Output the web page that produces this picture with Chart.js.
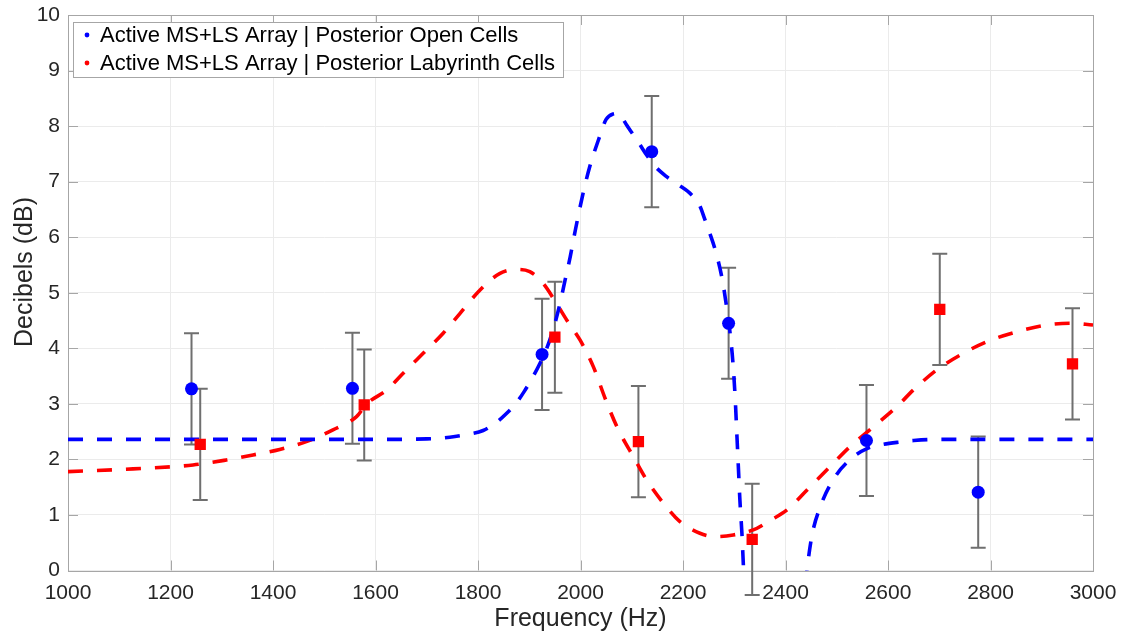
<!DOCTYPE html>
<html>
<head>
<meta charset="utf-8">
<title>Active MS+LS Array</title>
<script src="https://cdn.jsdelivr.net/npm/chart.js@4/dist/chart.umd.min.js"></script>
<style>
  html, body { margin: 0; padding: 0; background: #fff; }
  #wrap { width: 1122px; height: 635px; position: relative; }
</style>
</head>
<body>
<div id="wrap"><canvas id="dbChart"></canvas></div>
<script>
// measured points (mean +/- error) for the two cell types
const openLabel = 'Active MS+LS Array | Posterior Open Cells';
const openHz = [1241, 1555, 1925, 2139, 2289, 2558, 2776];
const openDb = [3.27, 3.28, 3.89, 7.54, 4.45, 2.34, 1.41];
const openErr = [1, 1, 1, 1, 1, 1, 1];

const labyLabel = 'Active MS+LS Array | Posterior Labyrinth Cells';
const labyHz = [1258, 1578, 1950, 2113, 2335, 2701, 2960];
const labyDb = [2.27, 2.98, 4.20, 2.32, 0.56, 4.70, 3.72];
const labyErr = [1, 1, 1, 1, 1, 1, 1];

// fitted curves
const openFitHz = [1000, 1200, 1400, 1600, 1700, 1745, 1780, 1810, 1835, 1856, 1875, 1890, 1905, 1921, 1935, 1948,
  1960, 1970, 1980, 1990, 2005, 2018, 2035, 2050, 2064, 2074, 2082, 2090, 2101, 2115, 2129, 2145, 2168, 2190, 2217,
  2232, 2243, 2252, 2262, 2276, 2285, 2293, 2298, 2302, 2305, 2308, 2311, 2315, 2318, 2322, 2335, 2380, 2425, 2436,
  2442, 2451, 2468, 2497, 2533, 2560, 2585, 2620, 2650, 2695, 2800, 3000];
const openFitDb = [2.36, 2.36, 2.36, 2.36, 2.37, 2.40, 2.45, 2.52, 2.66, 2.83, 3.02, 3.22, 3.45, 3.73, 4.02, 4.38,
  4.81, 5.23, 5.65, 6.13, 6.79, 7.27, 7.75, 8.12, 8.22, 8.23, 8.14, 8.02, 7.87, 7.68, 7.48, 7.28, 7.09, 6.95, 6.76,
  6.58, 6.31, 6.08, 5.80, 5.27, 4.75, 4.18, 3.67, 3.07, 2.47, 1.87, 1.27, 0.66, 0.06, -0.6, -2.0, -3.5, -2.0, -0.6,
  0.0, 0.6, 1.15, 1.69, 2.05, 2.20, 2.26, 2.31, 2.34, 2.36, 2.36, 2.36];

const labyFitHz = [1000, 1127, 1244, 1309, 1361, 1413, 1465, 1517, 1563, 1583, 1622, 1654, 1693, 1732, 1765, 1804,
  1843, 1875, 1901, 1927, 1953, 1973, 1999, 2025, 2048, 2071, 2103, 2129, 2162, 2194, 2233, 2263, 2298, 2337, 2370,
  2403, 2442, 2487, 2526, 2572, 2617, 2653, 2695, 2741, 2793, 2852, 2910, 2956, 3000];
const labyFitDb = [1.78, 1.83, 1.90, 1.99, 2.08, 2.18, 2.32, 2.53, 2.77, 3.00, 3.25, 3.55, 3.91, 4.27, 4.63, 5.05,
  5.35, 5.42, 5.38, 5.17, 4.81, 4.51, 4.15, 3.67, 3.10, 2.59, 2.05, 1.63, 1.21, 0.88, 0.67, 0.61, 0.64, 0.73, 0.90,
  1.09, 1.45, 1.87, 2.23, 2.59, 2.95, 3.28, 3.61, 3.88, 4.12, 4.30, 4.42, 4.45, 4.42];

const xTicks = [1000, 1200, 1400, 1600, 1800, 2000, 2200, 2400, 2600, 2800, 3000];
const yTicks = [0, 1, 2, 3, 4, 5, 6, 7, 8, 9, 10];
const xTitle = 'Frequency (Hz)';
const yTitle = 'Decibels (dB)';

const FONT = "'Liberation Sans', Helvetica, Arial, sans-serif";
const BLUE = '#0000ff';
const RED = '#ff0000';
const AXIS_GREY = '#a6a6a6';
const TEXT = '#262626';

const pts = (xs, ys) => xs.map((v, i) => ({ x: v, y: ys[i] }));

// box around the plot + inward tick marks on all four sides
const frameTicks = {
  id: 'frameTicks',
  beforeDatasetsDraw(chart) {
    const { ctx, chartArea: a, scales: { x, y } } = chart;
    const len = 10;
    ctx.save();
    ctx.strokeStyle = AXIS_GREY;
    ctx.lineWidth = 1;
    ctx.beginPath();
    xTicks.forEach(v => {
      const px = Math.round(x.getPixelForValue(v)) + 0.5;
      ctx.moveTo(px, a.bottom); ctx.lineTo(px, a.bottom - len);
      ctx.moveTo(px, a.top); ctx.lineTo(px, a.top + len);
    });
    yTicks.forEach(v => {
      const py = Math.round(y.getPixelForValue(v)) + 0.5;
      ctx.moveTo(a.left, py); ctx.lineTo(a.left + len, py);
      ctx.moveTo(a.right, py); ctx.lineTo(a.right - len, py);
    });
    ctx.stroke();
    ctx.strokeRect(Math.round(a.left) + 0.5, Math.round(a.top) + 0.5,
      Math.round(a.right - a.left), Math.round(a.bottom - a.top));
    ctx.restore();
  }
};

// vertical error bars with caps, for datasets carrying an errors array
const errorBars = {
  id: 'errorBars',
  beforeDatasetsDraw(chart) {
    const { ctx, scales: { x, y } } = chart;
    const cap = 7.5;
    ctx.save();
    ctx.strokeStyle = '#6f6f6f';
    ctx.lineWidth = 2;
    chart.data.datasets.forEach(ds => {
      if (!ds.errors) return;
      ds.data.forEach((p, i) => {
        const px = x.getPixelForValue(p.x);
        const lo = y.getPixelForValue(p.y - ds.errors[i]);
        const hi = y.getPixelForValue(p.y + ds.errors[i]);
        ctx.beginPath();
        ctx.moveTo(px, lo); ctx.lineTo(px, hi);
        ctx.moveTo(px - cap, lo); ctx.lineTo(px + cap, lo);
        ctx.moveTo(px - cap, hi); ctx.lineTo(px + cap, hi);
        ctx.stroke();
      });
    });
    ctx.restore();
  }
};

// y axis label sits a little above the middle of the axis
const yAxisTitle = {
  id: 'yAxisTitle',
  afterDraw(chart) {
    const { ctx } = chart;
    ctx.save();
    ctx.translate(25, 272);
    ctx.rotate(-Math.PI / 2);
    ctx.font = '25px ' + FONT;
    ctx.fillStyle = TEXT;
    ctx.textAlign = 'center';
    ctx.textBaseline = 'middle';
    ctx.fillText(yTitle, 0, 0);
    ctx.restore();
  }
};

// legend box in the upper-left corner of the plot
const boxLegend = {
  id: 'boxLegend',
  afterDraw(chart) {
    const { ctx, chartArea: a } = chart;
    const items = chart.data.datasets.filter(ds => ds.label);
    const left = a.left + 5, top = a.top + 7;
    const rowH = 28;
    ctx.save();
    ctx.font = '22px ' + FONT;
    const w = Math.max(...items.map(it => ctx.measureText(it.label).width)) + 35;
    const h = 55;
    ctx.fillStyle = '#ffffff';
    ctx.fillRect(left, top, w, h);
    ctx.strokeStyle = AXIS_GREY;
    ctx.lineWidth = 1;
    ctx.strokeRect(Math.round(left) + 0.5, Math.round(top) + 0.5, Math.round(w), h);
    items.forEach((it, i) => {
      const cy = top + 13 + i * rowH;
      ctx.fillStyle = it.backgroundColor;
      ctx.beginPath();
      ctx.arc(left + 14, cy, 2.4, 0, Math.PI * 2);
      ctx.fill();
      ctx.fillStyle = '#000000';
      ctx.textBaseline = 'middle';
      ctx.textAlign = 'left';
      ctx.fillText(it.label, left + 27, cy + 1);
    });
    ctx.restore();
  }
};

const ctx = document.getElementById('dbChart').getContext('2d');
new Chart(ctx, {
  type: 'scatter',
  data: {
    datasets: [
      {
        label: openLabel,
        data: pts(openHz, openDb),
        errors: openErr,
        pointStyle: 'circle',
        pointRadius: 6.5,
        backgroundColor: BLUE,
        borderColor: BLUE,
        borderWidth: 0
      },
      {
        label: labyLabel,
        data: pts(labyHz, labyDb),
        errors: labyErr,
        pointStyle: 'rect',
        pointRadius: 8,
        backgroundColor: RED,
        borderColor: RED,
        borderWidth: 0
      },
      {
        type: 'line',
        data: pts(openFitHz, openFitDb),
        borderColor: BLUE,
        borderWidth: 3.6,
        borderDash: [15, 14],
        cubicInterpolationMode: 'monotone',
        pointRadius: 0,
        fill: false
      },
      {
        type: 'line',
        data: pts(labyFitHz, labyFitDb),
        borderColor: RED,
        borderWidth: 3.6,
        borderDash: [15, 14],
        cubicInterpolationMode: 'monotone',
        pointRadius: 0,
        fill: false
      }
    ]
  },
  options: {
    responsive: true,
    maintainAspectRatio: false,
    animation: false,
    layout: { padding: { left: 0, right: 29, top: 15, bottom: 0 } },
    plugins: {
      legend: { display: false },
      tooltip: { enabled: false }
    },
    scales: {
      x: {
        type: 'linear',
        min: 1000,
        max: 3000,
        afterFit(scale) {
          scale.height = 64.5;
          scale.paddingLeft = 0;
          scale.paddingRight = 0;
        },
        afterBuildTicks(scale) { scale.ticks = xTicks.map(v => ({ value: v })); },
        grid: { color: '#ebebeb', drawTicks: false },
        border: { display: false },
        ticks: {
          color: TEXT,
          font: { family: FONT, size: 21 },
          padding: 10,
          maxRotation: 0,
          callback: v => String(v)
        },
        title: {
          display: true,
          text: xTitle,
          color: TEXT,
          font: { family: FONT, size: 25 },
          padding: { top: 0, bottom: 1 }
        }
      },
      y: {
        type: 'linear',
        min: 0,
        max: 10,
        afterFit(scale) {
          scale.width = 68;
          scale.paddingTop = 0;
          scale.paddingBottom = 0;
        },
        afterBuildTicks(scale) { scale.ticks = yTicks.map(v => ({ value: v })); },
        grid: { color: '#ebebeb', drawTicks: false },
        border: { display: false },
        ticks: {
          color: TEXT,
          font: { family: FONT, size: 21 },
          padding: 8,
          callback: v => String(v)
        }
      }
    }
  },
  plugins: [frameTicks, errorBars, yAxisTitle, boxLegend]
});
</script>
</body>
</html>
